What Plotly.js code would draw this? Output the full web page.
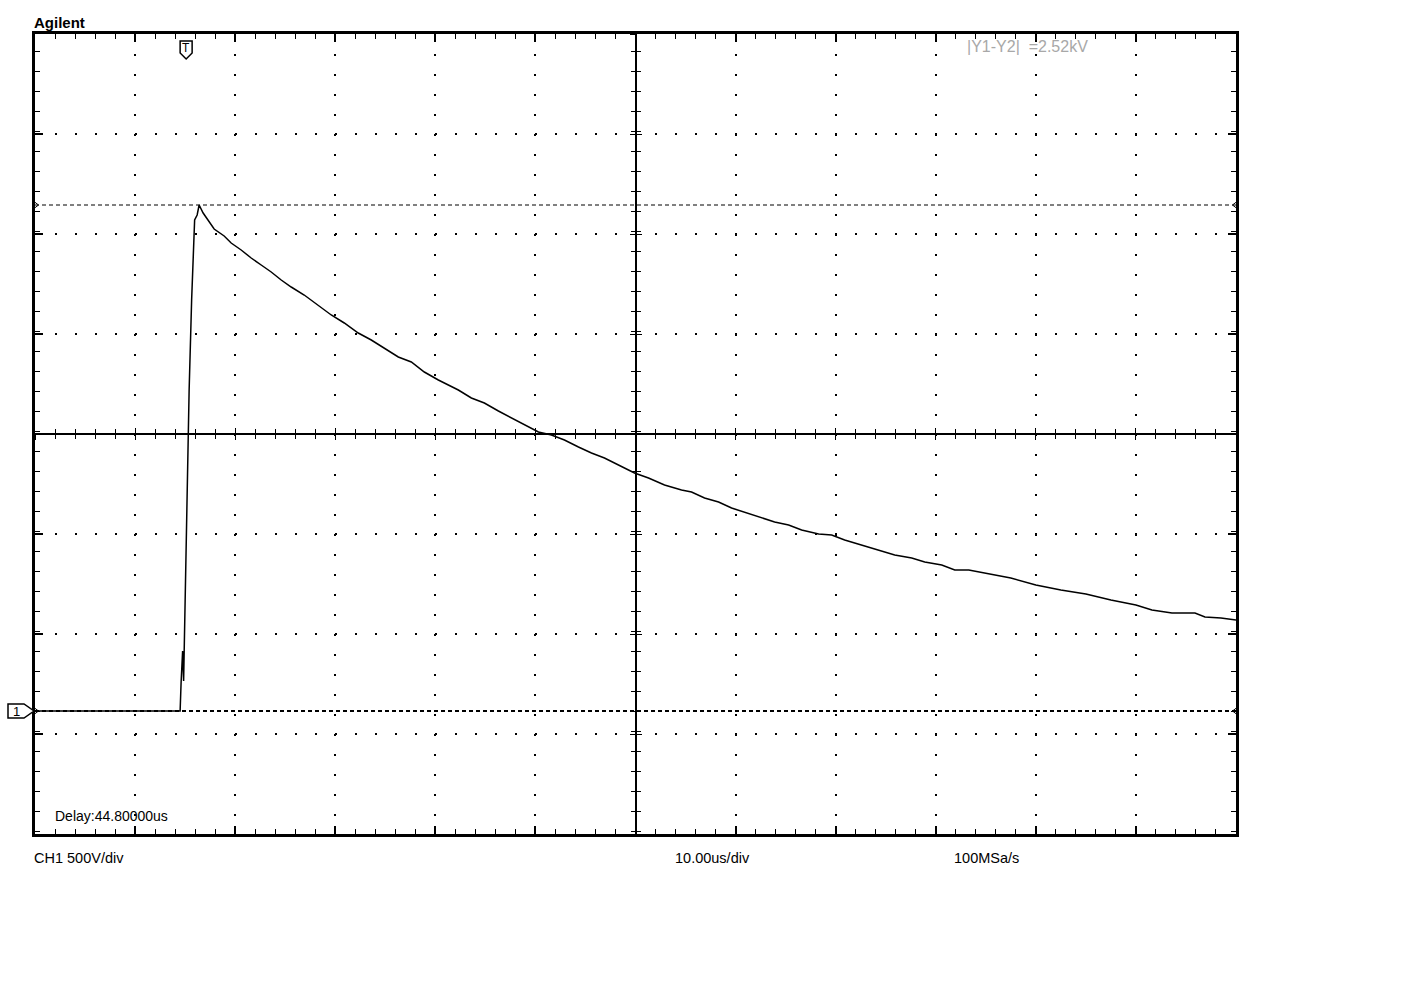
<!DOCTYPE html>
<html>
<head>
<meta charset="utf-8">
<script src="https://cdn.plot.ly/plotly-3.0.1.min.js"></script>
<style>
  html, body { margin: 0; padding: 0; background: #ffffff; }
  #chart { width: 1403px; height: 1001px; }
</style>
</head>
<body>
<div id="chart"></div>
<script>
// ---- Data ----
// time in microseconds (screen spans 12 div x 10 us)
const timeUs = [0, 2, 4, 6, 8, 10, 12, 14.5, 14.6, 14.75, 14.85, 15.0, 15.4, 15.65, 15.8, 15.95, 16.2, 16.4,
  16.8, 17.4, 17.9, 18.9, 19.6, 20.6, 21.6, 22.6, 23.6, 24.6, 25.6, 26.9, 28.3, 29.6, 30.9, 32.3, 33.6, 34.9,
  36.3, 37.6, 38.9, 40.3, 40.9, 42.3, 43.6, 44.9, 46.3, 47.6, 48.9, 50.3, 51.6, 52.9, 54.3, 55.6, 56.9, 58.3,
  59.9, 61.3, 62.9, 64.6, 65.6, 66.9, 68.3, 69.6, 70.9, 72.3, 73.9, 75.3, 76.6, 78.3, 79.6, 80.9, 82.6, 84.3,
  85.9, 87.6, 88.9, 90.6, 91.9, 93.3, 95, 97.5, 100, 102.5, 105, 107.5, 110, 111.6, 113.6, 115.9, 116.9, 118.5, 120];
// channel 1 voltage in volts (500 V/div)
const voltsV = [0, 0, 0, 0, 0, 0, 0, 0, 145, 300, 150, 555, 1605, 2055, 2305, 2455, 2480, 2530,
  2490, 2445, 2410, 2375, 2340, 2305, 2265, 2230, 2195, 2155, 2120, 2080, 2030, 1980, 1940, 1890, 1855, 1815,
  1770, 1745, 1695, 1655, 1640, 1605, 1565, 1540, 1500, 1465, 1430, 1395, 1380, 1355, 1320, 1290, 1265, 1230,
  1190, 1165, 1130, 1105, 1095, 1065, 1045, 1015, 995, 970, 945, 930, 905, 885, 880, 855, 830, 805,
  780, 765, 745, 730, 705, 705, 690, 665, 630, 605, 585, 555, 530, 505, 490, 490, 470, 465, 455];

// cursors (Y1 = peak, Y2 = ground)
const cursorY1 = 2530;
const cursorY2 = 0;
const triggerUs = 15.1;

// screen ranges / divisions
const timeRange = [0, 120];
const voltRange = [-615, 3385];
const timeDiv = 10, voltDiv = 500;

// texts
const brandText = 'Agilent';
const cursorText = '|Y1-Y2|  =2.52kV';
const delayText = 'Delay:44.80000us';
const chText = 'CH1 500V/div';
const tbText = '10.00us/div';
const srText = '100MSa/s';

const FONT = '"Liberation Sans", Arial, sans-serif';

const frameAxis = (range, tick0, dtick) => ({
  range: range, fixedrange: true, tick0: tick0, dtick: dtick,
  showgrid: true, gridcolor: '#000000', gridwidth: 2, griddash: '2px,18px',
  ticks: 'inside', ticklen: 8, tickwidth: 2, tickcolor: '#000000',
  minor: { dtick: dtick / 5, ticks: 'inside', ticklen: 5, tickwidth: 1, tickcolor: '#000000', showgrid: false },
  showline: true, linewidth: 3, linecolor: '#000000', mirror: 'allticks',
  showticklabels: false, zeroline: false
});

const centerAxis = (range, tick0, dtick, overlay, side, ticks) => ({
  range: range, fixedrange: true, tick0: tick0, dtick: dtick,
  overlaying: overlay, anchor: 'free', position: 0.5, side: side,
  showgrid: false, zeroline: false, showticklabels: false,
  showline: true, linewidth: 2, linecolor: '#000000',
  ticks: ticks, ticklen: 5, tickwidth: 1, tickcolor: '#000000',
  minor: { dtick: dtick / 5, ticks: ticks, ticklen: 4, tickwidth: 1, tickcolor: '#000000', showgrid: false }
});

const traces = [
  {
    type: 'scatter', mode: 'lines', x: timeUs, y: voltsV,
    line: { color: '#000000', width: 1.5 }, hoverinfo: 'skip', xaxis: 'x', yaxis: 'y'
  },
  {
    type: 'scatter', mode: 'lines+markers', x: timeRange, y: [cursorY1, cursorY1],
    line: { color: '#000000', width: 1, dash: '4px,3px' },
    marker: { symbol: ['triangle-right-open', 'triangle-left-open'], size: 7, color: '#000000', line: { width: 1 } },
    cliponaxis: false, hoverinfo: 'skip', xaxis: 'x2', yaxis: 'y2'
  },
  {
    type: 'scatter', mode: 'lines+markers', x: timeRange, y: [cursorY2, cursorY2],
    line: { color: '#000000', width: 2, dash: '4px,3px' },
    marker: { symbol: ['triangle-right-open', 'triangle-left-open'], size: 7, color: '#000000', line: { width: 1 } },
    cliponaxis: false, hoverinfo: 'skip', xaxis: 'x3', yaxis: 'y3'
  }
];

const layout = {
  width: 1403, height: 1001,
  margin: { l: 35, r: 167, t: 34, b: 167, pad: 0 },
  paper_bgcolor: '#ffffff', plot_bgcolor: '#ffffff',
  showlegend: false,
  font: { family: FONT, color: '#000000', size: 14 },
  xaxis: frameAxis(timeRange, timeRange[0], timeDiv),
  yaxis: frameAxis(voltRange, voltRange[0], voltDiv),
  xaxis2: centerAxis(timeRange, timeRange[0], timeDiv, 'x', 'bottom', 'outside'),
  yaxis2: centerAxis(voltRange, voltRange[0], voltDiv, 'y', 'left', 'outside'),
  xaxis3: centerAxis(timeRange, timeRange[0], timeDiv, 'x', 'bottom', 'inside'),
  yaxis3: centerAxis(voltRange, voltRange[0], voltDiv, 'y', 'left', 'inside'),
  shapes: [
    { // trigger marker
      type: 'path', xref: 'x', yref: 'paper', xsizemode: 'pixel', ysizemode: 'pixel',
      xanchor: triggerUs, yanchor: 1,
      path: 'M -6 -7 L 6 -7 L 6 -19 L 0 -25 L -6 -19 Z',
      line: { color: '#000000', width: 1.5 }, fillcolor: '#ffffff', layer: 'above'
    },
    { // channel 1 ground marker
      type: 'path', xref: 'paper', yref: 'y', xsizemode: 'pixel', ysizemode: 'pixel',
      xanchor: 0, yanchor: cursorY2,
      path: 'M -27 7 L -11 7 L -1 0 L -11 -7 L -27 -7 Z',
      line: { color: '#000000', width: 1.5 }, fillcolor: '#ffffff', layer: 'above'
    }
  ],
  annotations: [
    { text: '<b>' + brandText + '</b>', xref: 'paper', yref: 'paper', x: 0, xshift: -3, y: 1, yshift: 12,
      xanchor: 'left', yanchor: 'middle', showarrow: false, font: { size: 15, family: FONT } },
    { text: 'T', xref: 'x', yref: 'paper', x: triggerUs, y: 1, yshift: -14,
      xanchor: 'center', yanchor: 'middle', showarrow: false, font: { size: 12, family: FONT } },
    { text: '1', xref: 'paper', yref: 'y', x: 0, xshift: -19, y: cursorY2,
      xanchor: 'center', yanchor: 'middle', showarrow: false, font: { size: 13, family: FONT } },
    { text: cursorText, xref: 'paper', yref: 'paper', x: 0.777, xshift: -3, y: 0.984,
      xanchor: 'left', yanchor: 'middle', showarrow: false, font: { size: 16, color: '#a8a8a8', family: FONT } },
    { text: delayText, xref: 'paper', yref: 'paper', x: 0.0166, xshift: -2, y: 0.0225,
      xanchor: 'left', yanchor: 'middle', showarrow: false, font: { size: 14, family: FONT } },
    { text: chText, xref: 'paper', yref: 'paper', x: 0, xshift: -3, y: -0.03,
      xanchor: 'left', yanchor: 'middle', showarrow: false, font: { size: 14.5, family: FONT } },
    { text: tbText, xref: 'paper', yref: 'paper', x: 0.534, xshift: -3, y: -0.03,
      xanchor: 'left', yanchor: 'middle', showarrow: false, font: { size: 14.5, family: FONT } },
    { text: srText, xref: 'paper', yref: 'paper', x: 0.766, xshift: -3, y: -0.03,
      xanchor: 'left', yanchor: 'middle', showarrow: false, font: { size: 14.5, family: FONT } }
  ]
};

Plotly.newPlot('chart', traces, layout, { staticPlot: true, displayModeBar: false });
</script>
</body>
</html>
